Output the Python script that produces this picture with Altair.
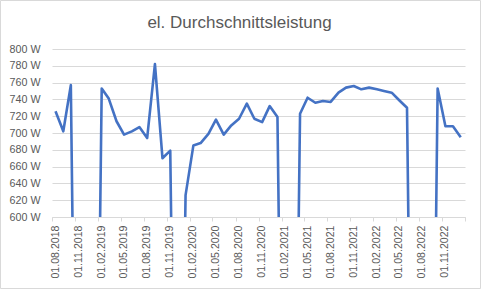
import altair as alt
import pandas as pd

dates = [
    "2018-08-15", "2018-09-15", "2018-10-15", "2018-11-15", "2018-12-15",
    "2019-01-15", "2019-02-15", "2019-03-15", "2019-04-15", "2019-05-15", "2019-06-15",
    "2019-07-15", "2019-08-15", "2019-09-15", "2019-10-15", "2019-11-15", "2019-12-15",
    "2020-01-15", "2020-02-15", "2020-03-15", "2020-04-15", "2020-05-15", "2020-06-15",
    "2020-07-15", "2020-08-15", "2020-09-15", "2020-10-15", "2020-11-15", "2020-12-15",
    "2021-01-15", "2021-02-15", "2021-03-15", "2021-04-15", "2021-05-15", "2021-06-15",
    "2021-07-15", "2021-08-15", "2021-09-15", "2021-10-15", "2021-11-15", "2021-12-15",
    "2022-01-15", "2022-02-15", "2022-03-15", "2022-04-15", "2022-05-15", "2022-06-15",
    "2022-07-15", "2022-08-15", "2022-09-15", "2022-10-15", "2022-11-15", "2022-12-15",
    "2023-01-15",
]
values = [
    726, 702, 757, 0, 0,
    0, 753, 741, 714, 698, 702,
    707, 694, 782, 670, 679, 0,
    626, 685, 688, 699, 716, 698,
    709, 717, 735, 717, 713, 732,
    719, 0, 0, 723, 742, 736,
    738, 737, 748, 754, 756, 752,
    754, 752, 750, 748, 739, 730,
    0, 0, 0, 753, 708, 708,
    695,
]
y_ticks = [600, 620, 640, 660, 680, 700, 720, 740, 760, 780, 800]
x_ticks = [
    (2018, 8), (2018, 11), (2019, 2), (2019, 5), (2019, 8), (2019, 11),
    (2020, 2), (2020, 5), (2020, 8), (2020, 11), (2021, 2), (2021, 5),
    (2021, 8), (2021, 11), (2022, 2), (2022, 5), (2022, 8), (2022, 11),
    (2023, 2),
]
title_text = "el. Durchschnittsleistung"

df = pd.DataFrame({"date": dates, "value": values})

FONT = "Liberation Sans"
GRAY = "#595959"
GRID = "#d9d9d9"

x_tick_vals = [alt.DateTime(year=y, month=m, date=1, utc=True) for y, m in x_ticks]
x_domain = [x_tick_vals[0], x_tick_vals[-1]]

line = alt.Chart(df).mark_line(
    color="#4472C4", strokeWidth=2.6, clip=True, strokeJoin="round"
).encode(
    x=alt.X(
        "date:T",
        scale=alt.Scale(type="utc", domain=x_domain, nice=False),
        axis=alt.Axis(
            values=x_tick_vals,
            format="%d.%m.%Y",
            labelExpr="datum.label == '01.02.2023' ? '' : datum.label",
            labelAngle=270,
            labelAlign="right",
            labelBaseline="middle",
            labelPadding=4,
            labelOffset=3,
            labelFont=FONT,
            labelFontSize=10.6,
            labelColor=GRAY,
            labelOverlap=False,
            labelBound=False,
            labelFlush=False,
            domainColor=GRID,
            tickColor=GRID,
            tickSize=4,
            grid=False,
            title=None,
        ),
    ),
    y=alt.Y(
        "value:Q",
        scale=alt.Scale(domain=[600, 800], nice=False, zero=False),
        axis=alt.Axis(
            values=y_ticks,
            labelExpr="datum.value + ' W'",
            labelFont=FONT,
            labelFontSize=10.7,
            labelColor=GRAY,
            labelPadding=12,
            domain=False,
            ticks=False,
            grid=True,
            gridColor=GRID,
            gridWidth=1,
            title=None,
        ),
    ),
)

one_row = alt.Data(values=[{"a": 1}])

border = alt.Chart(one_row).mark_rect(
    fill=None, stroke=GRID, strokeWidth=1, clip=False
).encode(
    x=alt.value(-51.5), x2=alt.value(428.5),
    y=alt.value(-48.5), y2=alt.value(239.5),
)

title = alt.Chart(one_row).mark_text(
    font=FONT, fontSize=17, color=GRAY, align="center", baseline="alphabetic", clip=False
).encode(
    text=alt.value(title_text),
    x=alt.value(187.5),
    y=alt.value(-20.8),
)

chart = alt.layer(border, title, line).properties(
    width=413,
    height=168,
    autosize=alt.AutoSizeParams(type="none"),
    padding={"left": 52, "top": 49, "right": 16, "bottom": 72},
    background="white",
).configure_view(stroke=None)

chart.save("out.html", embed_options={"renderer": "svg", "actions": False})
